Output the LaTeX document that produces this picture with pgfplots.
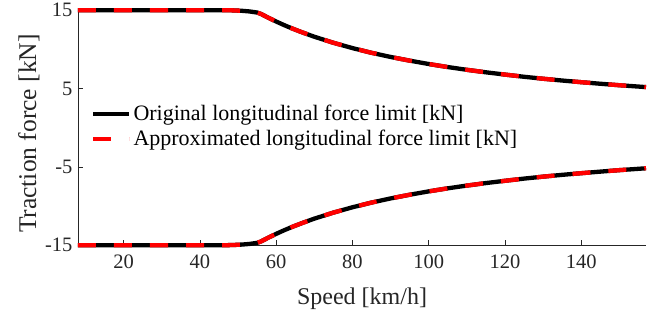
\documentclass[border=0pt]{standalone}
\usepackage{fontspec}
\setmainfont{Liberation Serif}
\usepackage{pgfplots}
\pgfplotsset{compat=1.18}
\definecolor{axgray}{rgb}{0.15,0.15,0.15}
\begin{document}
\begin{tikzpicture}
\begin{axis}[
  scale only axis,
  width=568bp, height=235bp,
  xmin=8, xmax=157, ymin=-15, ymax=15,
  axis lines*=left,
  axis line style={axgray, line width=0.6bp},
  every tick/.style={axgray, line width=0.6bp},
  tick align=inside,
  major tick length=5bp,
  xtick={20,40,60,80,100,120,140},
  ytick={-15,-5,5,15},
  yticklabels={-15,-5,5,15},
  /pgf/number format/assume math mode=true,
  tick label style={font=\fontsize{20.5bp}{24bp}\selectfont, text=axgray},
  xticklabel style={yshift=-6bp},
  yticklabel style={xshift=-2bp},
  xlabel={Speed [km/h]},
  ylabel={Traction force [kN]},
  xlabel style={font=\fontsize{24bp}{28bp}\selectfont, text=axgray,
    at={(axis description cs:0.5,0)}, anchor=base, yshift=-59bp},
  ylabel style={font=\fontsize{25.5bp}{30bp}\selectfont, text=axgray,
    at={(axis description cs:-0.0739,0.475)}, anchor=base},
  clip=false,
  legend cell align=left,
  legend style={at={(axis description cs:0.0229,0.506)}, anchor=west,
    draw=none, fill=none, inner sep=0pt, row sep=4bp,
    font=\fontsize{22bp}{26bp}\selectfont},
  legend image code/.code={\draw[#1] (0bp,0bp) -- (36bp,0bp);},
]
\addplot[black, line width=4.3bp] coordinates {
(8,15) (20,15) (30,15) (40,15) (47,15) (49,14.97) (51,14.92) (53,14.84) (55,14.70)
(56,14.52) (58,14.02) (60,13.55) (62,13.11) (64,12.70) (66,12.32) (68,11.96)
(70,11.61) (75,10.84) (80,10.16) (85,9.56) (90,9.03) (95,8.56) (100,8.13)
(105,7.74) (110,7.39) (115,7.07) (120,6.78) (125,6.50) (130,6.25) (135,6.02)
(140,5.81) (145,5.61) (150,5.42) (155,5.25) (157,5.18)};
\addlegendentry{Original longitudinal force limit [kN]}
\addplot[black, line width=4.3bp, forget plot] coordinates {
(8,-15) (20,-15) (30,-15) (40,-15) (47,-15) (49,-14.97) (51,-14.92) (53,-14.84) (55,-14.70)
(56,-14.52) (58,-14.02) (60,-13.55) (62,-13.11) (64,-12.70) (66,-12.32) (68,-11.96)
(70,-11.61) (75,-10.84) (80,-10.16) (85,-9.56) (90,-9.03) (95,-8.56) (100,-8.13)
(105,-7.74) (110,-7.39) (115,-7.07) (120,-6.78) (125,-6.50) (130,-6.25) (135,-6.02)
(140,-5.81) (145,-5.61) (150,-5.42) (155,-5.25) (157,-5.18)};
\addplot[red, line width=4.3bp, dash pattern=on 18bp off 18bp] coordinates {
(8,15) (20,15) (30,15) (40,15) (47,15) (49,14.97) (51,14.92) (53,14.84) (55,14.70)
(56,14.52) (58,14.02) (60,13.55) (62,13.11) (64,12.70) (66,12.32) (68,11.96)
(70,11.61) (75,10.84) (80,10.16) (85,9.56) (90,9.03) (95,8.56) (100,8.13)
(105,7.74) (110,7.39) (115,7.07) (120,6.78) (125,6.50) (130,6.25) (135,6.02)
(140,5.81) (145,5.61) (150,5.42) (155,5.25) (157,5.18)};
\addlegendentry{Approximated longitudinal force limit [kN]}
\addplot[red, line width=4.3bp, dash pattern=on 18bp off 18bp, forget plot] coordinates {
(8,-15) (20,-15) (30,-15) (40,-15) (47,-15) (49,-14.97) (51,-14.92) (53,-14.84) (55,-14.70)
(56,-14.52) (58,-14.02) (60,-13.55) (62,-13.11) (64,-12.70) (66,-12.32) (68,-11.96)
(70,-11.61) (75,-10.84) (80,-10.16) (85,-9.56) (90,-9.03) (95,-8.56) (100,-8.13)
(105,-7.74) (110,-7.39) (115,-7.07) (120,-6.78) (125,-6.50) (130,-6.25) (135,-6.02)
(140,-5.81) (145,-5.61) (150,-5.42) (155,-5.25) (157,-5.18)};
\end{axis}
\path (current axis.south west) ++(-78bp,-66bp);
\path (current axis.north east) ++(24bp,7bp);
\end{tikzpicture}
\end{document}
